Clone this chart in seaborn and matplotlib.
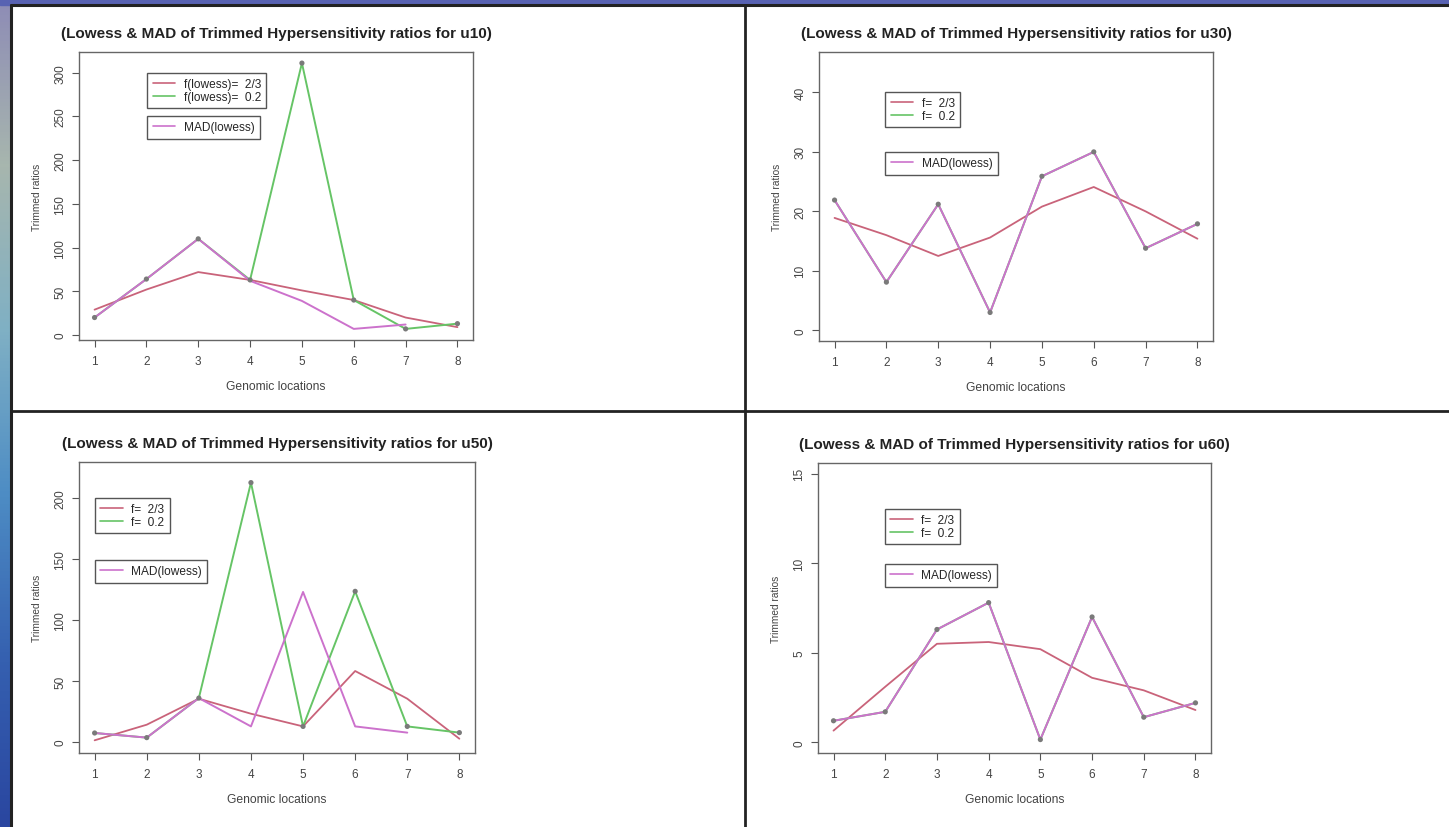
import numpy as np
import matplotlib
matplotlib.use("Agg")
import matplotlib.pyplot as plt
from matplotlib.colors import LinearSegmentedColormap
from matplotlib.patches import Rectangle
from matplotlib.lines import Line2D
import seaborn as sns

# Genomic locations (x axis, shared by all four panels)
locations = [1, 2, 3, 4, 5, 6, 7, 8]

# u10
u10_points = [20, 64, 110, 63, 311, 40, 7, 13]
u10_f23 = [29, 52, 72, 63, 51, 40, 20, 9]
u10_mad = [20, 64, 110, 62, 39, 7, 12, np.nan]

# u30
u30_points = [21.9, 8.1, 21.2, 3.0, 25.9, 30.0, 13.8, 17.9]
u30_f23 = [18.9, 16.0, 12.5, 15.6, 20.8, 24.1, 20.0, 15.4]
u30_mad = [21.9, 8.1, 21.2, 3.0, 25.9, 30.0, 13.8, 17.9]

# u50
u50_points = [7.4, 3.6, 36, 212.6, 12.8, 123.5, 12.8, 7.7]
u50_f23 = [1.4, 14.2, 35.5, 23.2, 12.8, 58.2, 35.5, 2.7]
u50_mad = [7.4, 3.6, 36, 12.8, 123, 12.8, 7.7, np.nan]

# u60
u60_points = [1.2, 1.7, 6.3, 7.8, 0.15, 7.0, 1.4, 2.2]
u60_f23 = [0.65, 3.1, 5.5, 5.6, 5.2, 3.6, 2.9, 1.8]
u60_mad = [1.2, 1.7, 6.3, 7.8, 0.15, 7.0, 1.4, 2.2]

names = ["u10", "u30", "u50", "u60"]
y_ticks = [[0, 50, 100, 150, 200, 250, 300], [0, 10, 20, 30, 40],
           [0, 50, 100, 150, 200], [0, 5, 10, 15]]
legend_long = ["f(lowess)=  2/3", "f(lowess)=  0.2"]
legend_short = ["f=  2/3", "f=  0.2"]

RED = "#c9637a"
GREEN = "#66c466"
PINK = "#cc72cc"
DOT = "#7a7a7a"

sns.set_style("white")
plt.rcParams["font.family"] = ["Liberation Sans", "DejaVu Sans"]

W, H = 1449, 828
fig = plt.figure(figsize=(W / 100, H / 100), dpi=100)

# slide background: gradient strip on the left, blue band on top
bg = fig.add_axes([0, 0, 1, 1])
bg.set_xlim(0, W)
bg.set_ylim(H, 0)
bg.axis("off")
grad = LinearSegmentedColormap.from_list(
    "slide", ["#8e8cb6", "#a7b6ae", "#7fb0c4", "#4d8cc4", "#3560b0", "#2a46a0"])
bg.imshow(np.linspace(0, 1, 256).reshape(-1, 1), cmap=grad, aspect="auto",
          extent=[0, W, H, 0], zorder=0)
bg.add_patch(Rectangle((0, 0), W, 6, color="#5862b2", zorder=1))
bg.add_patch(Rectangle((11, 6), W - 11, H - 6, color="white", zorder=2))
bg.plot([11, 11], [6, H], color="#222222", lw=2.2, zorder=3)
bg.plot([11, W], [6, 6], color="#222222", lw=2.2, zorder=3)
bg.plot([745, 745], [6, H], color="#222222", lw=2.0, zorder=3)
bg.plot([11, W], [412, 412], color="#222222", lw=2.0, zorder=3)

# axes boxes in pixels: left, right, top, bottom
boxes = [(79, 473, 53, 341), (819, 1213, 53, 342),
         (79, 475, 463, 754), (818, 1211, 464, 754)]
ylims = [(-5.7, 323.7), (-1.8, 46.8), (-9, 229.5), (-0.6, 15.6)]
leg1_pos = [(0.173, 0.927), (0.168, 0.862), (0.040, 0.876), (0.170, 0.841)]
leg2_pos = [(0.173, 0.778), (0.168, 0.654), (0.040, 0.663), (0.170, 0.652)]

series = [(u10_points, u10_f23, u10_mad), (u30_points, u30_f23, u30_mad),
          (u50_points, u50_f23, u50_mad), (u60_points, u60_f23, u60_mad)]

leg_kw = dict(loc="upper left", borderaxespad=0, fontsize=8.6, fancybox=False,
              framealpha=1, edgecolor="#555555", handlelength=1.9,
              handletextpad=0.7, labelspacing=0.05, borderpad=0.45)

for i, (pts, f23, mad) in enumerate(series):
    l, r, t, b = boxes[i]
    ax = fig.add_axes([l / W, (H - b) / H, (r - l) / W, (b - t) / H])
    ax.set_facecolor("none")

    sns.lineplot(x=locations, y=f23, ax=ax, color=RED, lw=1.3, estimator=None, sort=False)
    sns.lineplot(x=locations, y=pts, ax=ax, color=GREEN, lw=1.4, estimator=None, sort=False)
    sns.lineplot(x=locations, y=mad, ax=ax, color=PINK, lw=1.4, estimator=None, sort=False)
    sns.scatterplot(x=locations, y=pts, ax=ax, color=DOT, s=14, edgecolor="none", zorder=5)

    ax.set_xlim(0.7, 8.3)
    ax.set_ylim(*ylims[i])
    ax.set_xticks(locations)
    ax.set_yticks(y_ticks[i])
    ax.tick_params(axis="both", direction="out", length=5, width=0.8,
                   color="#555555", labelcolor="#444444", labelsize=8.5,
                   bottom=True, left=True)
    ax.tick_params(axis="x", pad=6)
    ax.tick_params(axis="y", pad=4)
    for lab in ax.get_yticklabels():
        lab.set_rotation(90)
        lab.set_va("center")
    for sp in ax.spines.values():
        sp.set_color("#666666")
        sp.set_linewidth(1.0)

    ax.set_title(f"(Lowess & MAD of Trimmed Hypersensitivity ratios for {names[i]})",
                 fontsize=11, fontweight="bold", color="#222222", pad=11)
    ax.set_xlabel("Genomic locations", fontsize=8.7, color="#444444", labelpad=9)
    ax.set_ylabel("Trimmed ratios", fontsize=7.3, color="#444444", labelpad=9)

    labels = legend_long if i == 0 else legend_short
    h1 = [Line2D([], [], color=RED, lw=1.2), Line2D([], [], color=GREEN, lw=1.2)]
    leg1 = ax.legend(h1, labels, bbox_to_anchor=leg1_pos[i], **leg_kw)
    leg1.get_frame().set_linewidth(1.0)
    ax.add_artist(leg1)
    h2 = [Line2D([], [], color=PINK, lw=1.2)]
    leg2 = ax.legend(h2, ["MAD(lowess)"], bbox_to_anchor=leg2_pos[i], **leg_kw)
    leg2.get_frame().set_linewidth(1.0)

fig.savefig("out.png", dpi=100)
